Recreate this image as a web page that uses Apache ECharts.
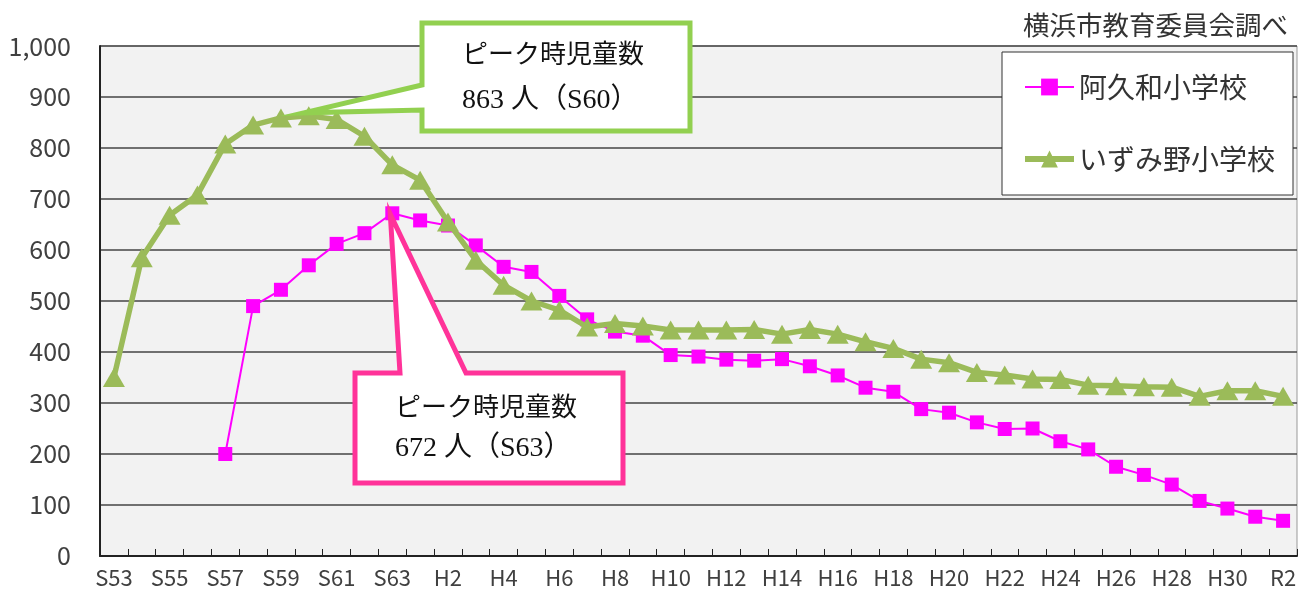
<!DOCTYPE html>
<html><head><meta charset="utf-8">
<script src="https://cdn.jsdelivr.net/npm/echarts@6/dist/echarts.min.js"></script>
<style>html,body{margin:0;padding:0;background:#fff;}#c{width:1301px;height:589px;}</style>
</head><body><div id="c"></div>
<script>
const categories = ['S53','S54','S55','S56','S57','S58','S59','S60','S61','S62','S63',
  'H1','H2','H3','H4','H5','H6','H7','H8','H9','H10','H11','H12','H13','H14','H15','H16','H17','H18','H19','H20',
  'H21','H22','H23','H24','H25','H26','H27','H28','H29','H30','R1','R2'];
const akuwa = [null,null,null,null,200,490,522,570,612,633,672,
  658,648,609,567,557,510,464,440,432,394,391,385,383,386,372,354,330,322,288,281,
  262,249,250,225,209,175,159,140,108,93,77,69];
const izumino = [350,585,668,708,808,845,859,863,856,823,767,
  737,655,580,531,500,482,449,456,451,443,443,443,444,435,444,435,420,407,386,379,
  360,355,347,346,335,334,332,331,313,324,324,313];
const seriesNames = ['阿久和小学校','いずみ野小学校'];
const sourceNote = '横浜市教育委員会調べ';
const calloutTitle = 'ピーク時児童数';
const peakGreen = {cat: 'S60', value: 863, label: '863 人（S60）'};
const peakPink = {cat: 'S63', value: 672, label: '672 人（S63）'};

const FONT = '"Noto Sans CJK JP", "Noto Sans", sans-serif';
const SERIF = '"Liberation Serif", "DejaVu Serif", "Noto Sans CJK JP", serif';
const PINK = '#ff00ff', GREEN = '#9bbb59';
const chart = echarts.init(document.getElementById('c'));
chart.setOption({
  animation: false,
  backgroundColor: '#fff',
  title: {
    text: sourceNote, right: 8, top: 7,
    textStyle: {fontSize: 26.5, fontWeight: 'normal', color: '#333', fontFamily: FONT}
  },
  legend: {
    orient: 'vertical', left: 1002, top: 52,
    backgroundColor: '#fff', borderColor: '#333', borderWidth: 1,
    padding: [21, 18, 22, 20], itemGap: 44, itemWidth: 49, itemHeight: 21,
    textStyle: {fontSize: 28, color: '#333', fontFamily: FONT},
    data: [
      {name: seriesNames[0], lineStyle: {width: 2, color: PINK}, itemStyle: {color: PINK}},
      {name: seriesNames[1], lineStyle: {width: 6, color: GREEN}, itemStyle: {color: GREEN}}
    ]
  },
  grid: {left: 100, right: 4, top: 46, bottom: 32, show: true,
    backgroundColor: '#f2f2f2', borderColor: '#999', borderWidth: 1},
  xAxis: {
    type: 'category', data: categories, boundaryGap: true,
    axisLine: {lineStyle: {color: '#222', width: 2}},
    axisTick: {show: true, inside: true, length: 7, interval: 0, lineStyle: {color: '#222'}},
    axisLabel: {interval: 1, fontSize: 22, color: '#404040', margin: 11, fontFamily: FONT}
  },
  yAxis: {
    type: 'value', min: 0, max: 1000, interval: 100,
    axisLine: {show: true, lineStyle: {color: '#222', width: 2}},
    axisTick: {show: false},
    splitLine: {lineStyle: {color: '#444', width: 1.5}},
    axisLabel: {fontSize: 25, color: '#404040', margin: 29, fontFamily: FONT,
      formatter: v => v.toLocaleString('en-US')}
  },
  series: [
    {name: seriesNames[0], type: 'line', data: akuwa, symbol: 'rect', symbolSize: 14, showAllSymbol: true,
      lineStyle: {color: PINK, width: 2}, itemStyle: {color: PINK}, z: 2},
    {name: seriesNames[1], type: 'line', data: izumino, symbol: 'triangle', symbolSize: [22, 19], showAllSymbol: true,
      lineStyle: {color: GREEN, width: 5.5}, itemStyle: {color: GREEN}, z: 3}
  ]
});

const tg = chart.convertToPixel({xAxisIndex: 0, yAxisIndex: 0}, [peakGreen.cat, peakGreen.value]);
const tp = chart.convertToPixel({xAxisIndex: 0, yAxisIndex: 0}, [peakPink.cat, peakPink.value]);
const gBox = {x1: 422, y1: 23, x2: 690, y2: 131};
const pBox = {x1: 355, y1: 373, x2: 623, y2: 483};
const txt = (x, y, s, size) => ({type: 'text', z: 101, left: x, top: y,
  style: {text: s, fontSize: size, fontFamily: SERIF, fill: '#111'}});
chart.setOption({
  graphic: [
    {type: 'polygon', z: 100, shape: {points: [
      [gBox.x1, gBox.y1], [gBox.x2, gBox.y1], [gBox.x2, gBox.y2], [gBox.x1, gBox.y2],
      [gBox.x1, 110], [tg[0] - 5, tg[1] - 3], [gBox.x1, 85]]},
      style: {fill: '#fff', stroke: '#92d050', lineWidth: 5, lineJoin: 'miter'}},
    txt(462, 43, calloutTitle, 26),
    txt(462, 87, peakGreen.label, 28),
    {type: 'polygon', z: 100, shape: {points: [
      [pBox.x1, pBox.y1], [400, pBox.y1], [tp[0] - 2, tp[1] + 1], [466, pBox.y1], [pBox.x2, pBox.y1],
      [pBox.x2, pBox.y2], [pBox.x1, pBox.y2]]},
      style: {fill: '#fff', stroke: '#ff3399', lineWidth: 5, lineJoin: 'miter'}},
    txt(395, 396, calloutTitle, 26),
    txt(395, 435, peakPink.label, 28)
  ]
});
</script>
</body></html>
